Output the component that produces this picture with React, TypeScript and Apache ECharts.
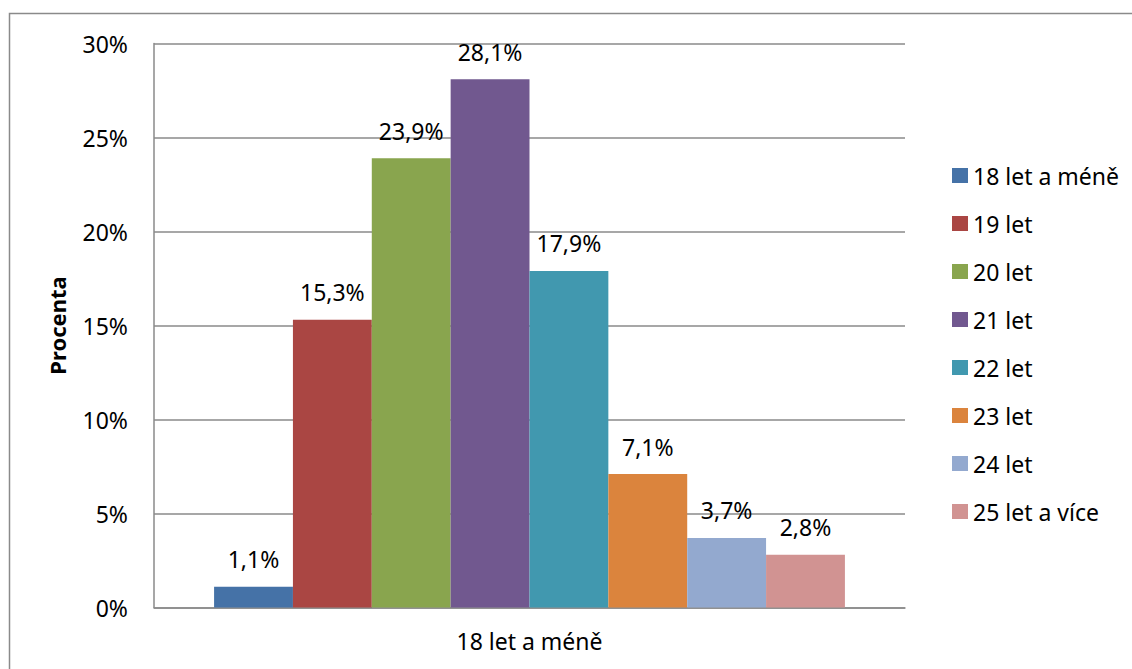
import React, { useEffect, useRef } from "react";
import * as echarts from "echarts";

// Age groups and their shares (percent) for the single category
const categories = ["18 let a méně"];
const seriesNames = [
  "18 let a méně",
  "19 let",
  "20 let",
  "21 let",
  "22 let",
  "23 let",
  "24 let",
  "25 let a více",
];
const seriesValues = [1.1, 15.3, 23.9, 28.1, 17.9, 7.1, 3.7, 2.8];
const seriesColors = [
  "#4572A7",
  "#AA4643",
  "#89A54E",
  "#71588F",
  "#4198AF",
  "#DB843D",
  "#93A9CF",
  "#D19392",
];
const yTicks = { min: 0, max: 30, interval: 5 };

const FONT = "'Noto Sans', 'Open Sans', sans-serif";
const FONT_SIZE = 23;
const GRID_COLOR = "#8a8a8a";

const fmtPct = (v: number) => `${v.toFixed(1).replace(".", ",")}%`;

export default function App() {
  const ref = useRef<HTMLDivElement>(null);

  useEffect(() => {
    if (!ref.current) return;
    const chart = echarts.init(ref.current, undefined, { renderer: "svg" });

    const series = seriesNames.map((name, i) => ({
      name,
      type: "bar" as const,
      data: [seriesValues[i]],
      itemStyle: { color: seriesColors[i] },
      barGap: "0%",
      barCategoryGap: "16%",
      label: {
        show: true,
        position: "top" as const,
        distance: 16,
        formatter: (p: any) => fmtPct(p.value),
        fontFamily: FONT,
        fontSize: FONT_SIZE,
        color: "#000",
      },
    }));

    chart.setOption({
      animation: false,
      backgroundColor: "#fff",
      textStyle: { fontFamily: FONT },
      graphic: [
        {
          type: "rect",
          shape: { x: 9.5, y: 13.5, width: 1200, height: 700 },
          style: { fill: "none", stroke: GRID_COLOR, lineWidth: 1.5 },
          silent: true,
        },
      ],
      grid: { left: 154, right: 227, top: 43.5, bottom: 61.5 },
      legend: {
        orient: "vertical",
        left: 947,
        top: 159,
        itemWidth: 16,
        itemHeight: 15,
        itemGap: 25,
        icon: "rect",
        textStyle: {
          fontFamily: FONT,
          fontSize: FONT_SIZE,
          lineHeight: 23,
          color: "#000",
        },
        data: seriesNames,
      },
      xAxis: {
        type: "category",
        data: categories,
        axisLine: { show: true, lineStyle: { color: GRID_COLOR, width: 1.5 } },
        axisTick: { show: false },
        axisLabel: {
          fontFamily: FONT,
          fontSize: FONT_SIZE,
          color: "#000",
          margin: 22,
        },
      },
      yAxis: {
        type: "value",
        min: yTicks.min,
        max: yTicks.max,
        interval: yTicks.interval,
        name: "Procenta",
        nameLocation: "middle",
        nameGap: 86,
        nameTextStyle: {
          fontFamily: FONT,
          fontSize: 22,
          fontWeight: "bold",
          color: "#000",
        },
        axisLine: { show: true, lineStyle: { color: GRID_COLOR, width: 1.5 } },
        axisTick: { show: false },
        axisLabel: {
          formatter: "{value}%",
          fontFamily: FONT,
          fontSize: FONT_SIZE,
          color: "#000",
          margin: 26,
        },
        splitLine: { show: true, lineStyle: { color: GRID_COLOR, width: 1.5 } },
      },
      series,
    });

    return () => chart.dispose();
  }, []);

  return (
    <div
      ref={ref}
      style={{
        position: "absolute",
        left: 0,
        top: 0,
        width: 1132,
        height: 669,
      }}
    />
  );
}
